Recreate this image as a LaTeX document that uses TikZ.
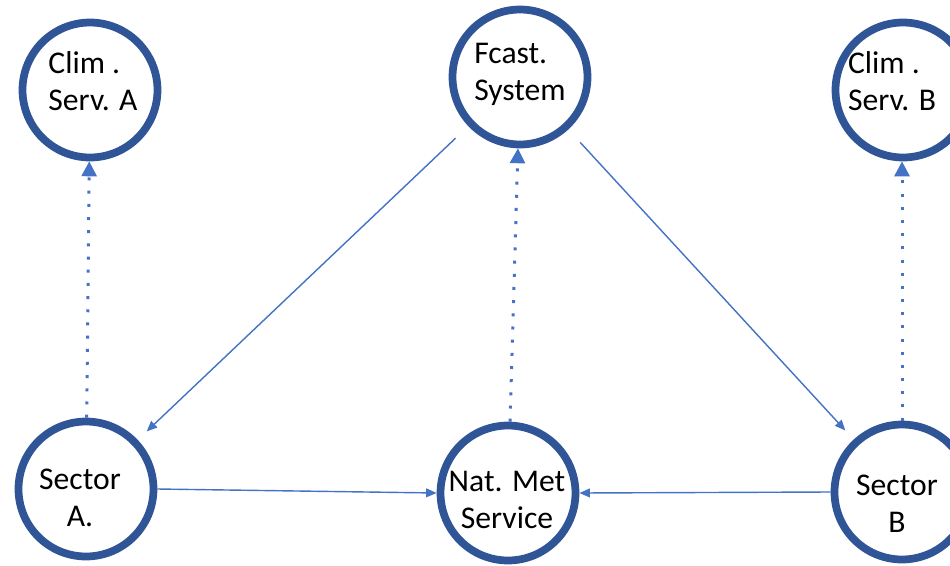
\documentclass[tikz,border=0pt]{standalone}
\usepackage{fontspec}
\setmainfont{Carlito}
\usepackage{xcolor}
\usetikzlibrary{arrows.meta}
\definecolor{ringblue}{RGB}{47,85,151}
\definecolor{linkblue}{RGB}{68,114,196}
\tikzset{
  ring/.style={circle, draw=ringblue, line width=4.4pt, minimum size=2.7cm, inner sep=0pt},
  caption/.style={inner sep=0pt, font=\fontsize{18}{21}\selectfont},
  link/.style={draw=linkblue, line width=0.8pt, -{Triangle[length=6pt,width=5pt]}},
  feedback/.style={draw=linkblue, line width=1.7pt, dash pattern=on 1.7pt off 5.8pt,
    -{Triangle[length=8.5pt,width=8.5pt]}}
}
\begin{document}
\begin{tikzpicture}[x=0.02cm,y=-0.02cm]
\clip (0,0) rectangle (950,565);
\node[ring] (climA) at (90,90) {};
\node[ring] (fcast) at (520,77) {};
\node[ring] (climB) at (903,90) {};
\node[ring] (secA) at (86,489) {};
\node[ring] (natmet) at (508,493) {};
\node[ring] (secB) at (902,492) {};
% texts
\node[caption, align=left] (climAtext) at (93,81) {Clim .\\Serv. A};
\node[caption, align=left] (fcasttext) at (520,74) {Fcast.\\System};
\node[caption, align=left] (climBtext) at (892,81) {Clim .\\Serv. B};
\node[caption, align=center] (secAtext) at (80,498) {Sector\\A.};
\node[caption, align=center] (natmettext) at (507,500) {Nat. Met\\Service};
\node[caption, align=center] (secBtext) at (897,504) {Sector\\B};
% dotted feedback
\draw[feedback] (secA) -- (climA);
\draw[feedback] (natmet) -- (fcast);
\draw[feedback] (secB.north) -- (secB.north |- climB.south);
% forecast links
\draw[link, shorten <=10pt, shorten >=7pt] (fcast) -- (secA);
\draw[link, shorten <=10pt, shorten >=7pt] (fcast) -- (secB);
\draw[link] (secA.east) -- (natmet.west);
\draw[link] (secB.west) -- (natmet.east);
\end{tikzpicture}
\end{document}
